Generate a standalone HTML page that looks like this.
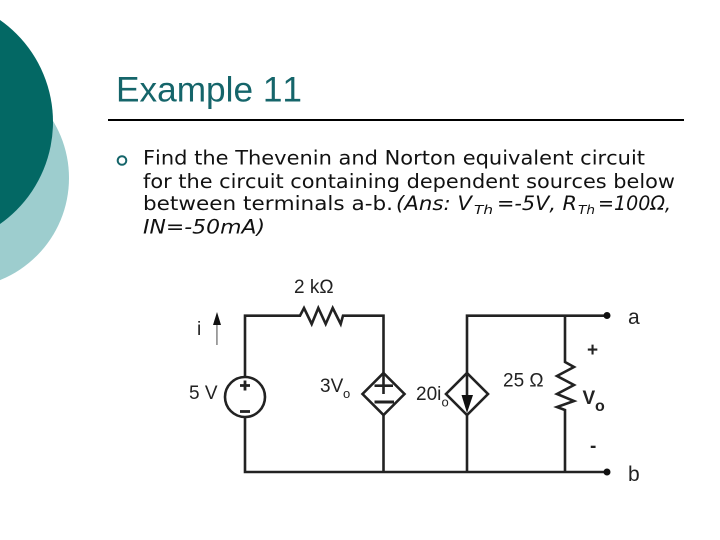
<!DOCTYPE html>
<html>
<head>
<meta charset="utf-8">
<style>
html,body{margin:0;padding:0;background:#fff;width:720px;height:540px;overflow:hidden}
svg{display:block}
text{font-kerning:none}
.b{font-family:"DejaVu Sans",sans-serif;font-size:19.500px;fill:#111}
.i{font-style:italic}
.s{font-size:12px;font-style:italic}
.c{font-family:"Liberation Sans",sans-serif;font-size:19px;fill:#222}
</style>
</head>
<body>
<svg width="720" height="540" viewBox="0 0 720 540" xmlns="http://www.w3.org/2000/svg">
<rect width="720" height="540" fill="#fff"/>
<circle cx="-41" cy="178" r="110" fill="#9dcdce"/>
<circle cx="-71.6" cy="122" r="124.6" fill="#036864"/>

<text x="116" y="101.500" font-family="Liberation Sans, sans-serif" font-size="35" fill="#15656a" textLength="186" lengthAdjust="spacingAndGlyphs">Example 11</text>
<rect x="108" y="119" width="576" height="2" fill="#000"/>

<circle cx="122" cy="160.500" r="4.300" fill="none" stroke="#15656a" stroke-width="2"/>
<text class="b" x="143" y="164.500" textLength="502" lengthAdjust="spacingAndGlyphs">Find the Thevenin and Norton equivalent circuit</text>
<text class="b" x="143" y="188" textLength="532" lengthAdjust="spacingAndGlyphs">for the circuit containing dependent sources below</text>
<text class="b" x="143" y="210" textLength="250" lengthAdjust="spacingAndGlyphs">between terminals a-b.</text>
<text class="b i" x="396" y="210" textLength="76" lengthAdjust="spacingAndGlyphs">(Ans: V</text>
<text class="b s" x="474" y="214" textLength="19" lengthAdjust="spacingAndGlyphs">Th</text>
<text class="b i" x="497" y="210" textLength="80" lengthAdjust="spacingAndGlyphs">=-5V, R</text>
<text class="b s" x="578" y="214" textLength="17" lengthAdjust="spacingAndGlyphs">Th</text>
<text class="b i" x="598" y="210" textLength="73" lengthAdjust="spacingAndGlyphs">=100Ω,</text>
<text class="b i" x="143" y="233.500" textLength="122" lengthAdjust="spacingAndGlyphs">IN=-50mA)</text>

<g fill="none" stroke="#222" stroke-width="2.600" stroke-linejoin="miter">
<path d="M245 377V315.700H300L304 308L311.700 324L318.300 308L325.700 324L332.700 308L340.700 324L343 315.700H383.500V373"/>
<path d="M245 417V472H607"/>
<path d="M383.500 415V472"/>
<path d="M467 373V315.700H607"/>
<path d="M467 415V472"/>
<path d="M565 315.700V362L574 367L557 376L574 385L557 394L574 401L557 407L565 410V472"/>
<circle cx="245" cy="397" r="20"/>
<path d="M383.500 373L404.500 394L383.500 415L362.500 394Z"/>
<path d="M467 373L488 394L467 415L446 394Z"/>
<path d="M383.500 375V394M374.500 385.700H393"/>
<path d="M374.500 402H394" stroke-width="3"/>
<path d="M467 375V398"/>
<path d="M240 385.500H250M245 380.500V390.500" stroke-width="2.800"/>
<path d="M240 411.500H250" stroke-width="2.800"/>
</g>
<path d="M461.500 395H473L467 413Z" fill="#111"/>
<circle cx="607" cy="315.500" r="3.500" fill="#111"/>
<circle cx="607" cy="472" r="3.500" fill="#111"/>
<rect x="216" y="325" width="1.800" height="20" fill="#999"/>
<path d="M217 312L221 325H213Z" fill="#111"/>

<text class="c" x="294" y="293">2 kΩ</text>
<text class="c" x="197" y="335">i</text>
<text class="c" x="189" y="399">5 V</text>
<text class="c" x="320" y="392">3V</text>
<text class="c" x="343" y="398" style="font-size:13px">o</text>
<text class="c" x="416" y="400">20i</text>
<text class="c" x="441.500" y="406.500" style="font-size:13px">o</text>
<text class="c" x="503" y="386.500">25 Ω</text>
<text class="c" x="628" y="324" style="font-size:21px">a</text>
<text class="c" x="628" y="481" style="font-size:21px">b</text>
<text class="c" x="587" y="356" style="font-weight:bold">+</text>
<text class="c" x="590" y="452" style="font-weight:bold">-</text>
<text class="c" x="582.500" y="404" style="font-weight:bold;font-size:19px">V</text>
<text class="c" x="595" y="411" style="font-weight:bold;font-size:16px">o</text>
</svg>
</body>
</html>
